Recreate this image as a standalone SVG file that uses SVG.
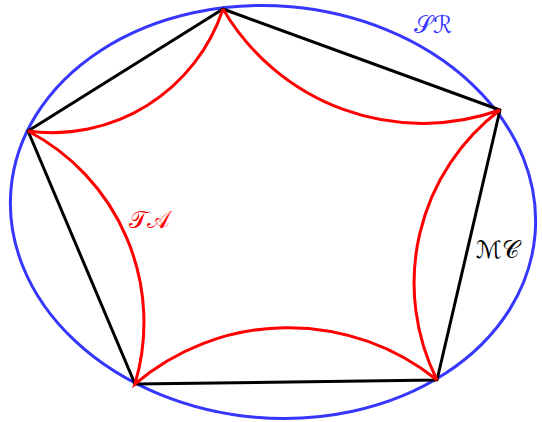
<svg xmlns="http://www.w3.org/2000/svg" width="542" height="422" viewBox="0 0 542 422">
<style>
.ell{fill:none;stroke:#3636ff;stroke-width:3}
.poly{fill:none;stroke:#000;stroke-width:3;stroke-linejoin:round}
.arc{fill:none;stroke:#ff0000;stroke-width:3}
.lbl{font-family:"DejaVu Serif","DejaVu Sans",serif;font-size:24px}
</style>
<g id="sr">
<ellipse class="ell" cx="273" cy="212" rx="263" ry="206" transform="rotate(5 273 212)"/>
<text class="lbl" x="414" y="33" fill="#3636ff">𝒮ℛ</text>
</g>
<g id="mc">
<polygon class="poly" points="223,9 500,110 437,380 135,384 28,131"/>
<text class="lbl" x="476" y="258" fill="#000">ℳ𝒞</text>
</g>
<g id="ta">
<path class="arc" d="M223,9 A231,231 0 0 0 500,110 A217,217 0 0 0 437,380 A237,237 0 0 0 135,384 A216,216 0 0 0 28,131 A180,180 0 0 0 223,9"/>
<text class="lbl" x="129" y="228" fill="#ff0000">𝒯𝒜</text>
</g>
</svg>
